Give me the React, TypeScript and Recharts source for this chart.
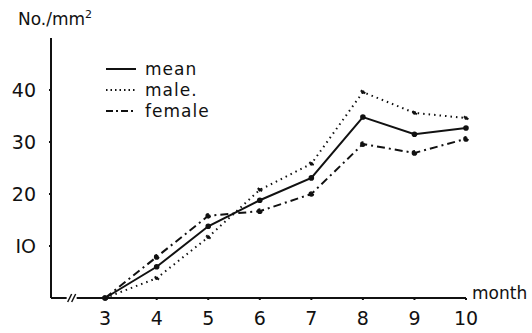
import { LineChart, Line, XAxis, YAxis, ReferenceDot } from "recharts";

const months = [3, 4, 5, 6, 7, 8, 9, 10];
const meanValues = [0, 6, 13.8, 18.8, 23.1, 34.8, 31.5, 32.7];
const maleValues = [0, 3.8, 11.7, 20.8, 25.8, 39.6, 35.6, 34.6];
const femaleValues = [0, 7.9, 15.8, 16.7, 20, 29.6, 27.9, 30.6];
const yTicks = [10, 20, 30, 40];
const yTickLabels = ["IO", "20", "30", "40"];

const data = months.map((m, i) => ({
  month: m,
  mean: meanValues[i],
  male: maleValues[i],
  female: femaleValues[i],
}));

const ink = "#111";
const font = "'DejaVu Sans', Arial, sans-serif";

const legendItems = [
  { label: "mean", dash: undefined },
  { label: "male.", dash: "1.5 3" },
  { label: "female", dash: "7 3 2 3" },
];

function BreakMark(props: any) {
  const { cx, cy } = props;
  return (
    <g stroke={ink} strokeWidth={1.5}>
      <rect x={cx - 6} y={cy - 2} width={10} height={4} fill="#fff" stroke="none" />
      <line x1={cx - 5} y1={cy + 4} x2={cx - 1} y2={cy - 4} />
      <line x1={cx - 1} y1={cy + 4} x2={cx + 3} y2={cy - 4} />
    </g>
  );
}

export default function App() {
  return (
    <div style={{ position: "absolute", left: 0, top: 0, width: 532, height: 333, background: "#fff", fontFamily: font }}>
      <LineChart width={532} height={333} data={data} margin={{ top: 38, right: 66, bottom: 5, left: 6 }}>
        <XAxis
          dataKey="month"
          type="number"
          domain={[1.95, 10]}
          ticks={months}
          height={30}
          stroke={ink}
          strokeWidth={2}
          tickSize={2}
          tickMargin={12}
          tick={{ fill: ink, fontSize: 19, fontFamily: font }}
        />
        <YAxis
          type="number"
          domain={[0, 50]}
          ticks={yTicks}
          width={45}
          stroke={ink}
          strokeWidth={2}
          tickSize={2}
          tickMargin={13}
          tickFormatter={(v: number) => yTickLabels[yTicks.indexOf(v)]}
          tick={{ fill: ink, fontSize: 19, fontFamily: font }}
        />
        <ReferenceDot x={2.37} y={0} r={0} shape={<BreakMark />} ifOverflow="visible" />
        <Line dataKey="mean" stroke={ink} strokeWidth={2} dot={{ r: 1.8, fill: ink, stroke: ink }} isAnimationActive={false} />
        <Line dataKey="male" stroke={ink} strokeWidth={2} strokeDasharray="1.5 4" dot={{ r: 1.8, fill: ink, stroke: ink }} isAnimationActive={false} />
        <Line dataKey="female" stroke={ink} strokeWidth={2} strokeDasharray="8 4 2 4" dot={{ r: 1.8, fill: ink, stroke: ink }} isAnimationActive={false} />
      </LineChart>
      <div style={{ position: "absolute", left: 18, top: 8, fontSize: 17, color: ink, whiteSpace: "nowrap" }}>
        No./mm<sup style={{ fontSize: 11 }}>2</sup>
      </div>
      <div style={{ position: "absolute", left: 472, top: 283, fontSize: 17, color: ink }}>month</div>
      <div style={{ position: "absolute", left: 106, top: 58 }}>
        {legendItems.map((it) => (
          <div key={it.label} style={{ display: "flex", alignItems: "center", height: 21, fontSize: 17, color: ink, letterSpacing: 1 }}>
            <svg width={30} height={10} style={{ marginRight: 9 }}>
              <line x1={0} y1={5} x2={30} y2={5} stroke={ink} strokeWidth={2} strokeDasharray={it.dash} />
            </svg>
            {it.label}
          </div>
        ))}
      </div>
    </div>
  );
}
